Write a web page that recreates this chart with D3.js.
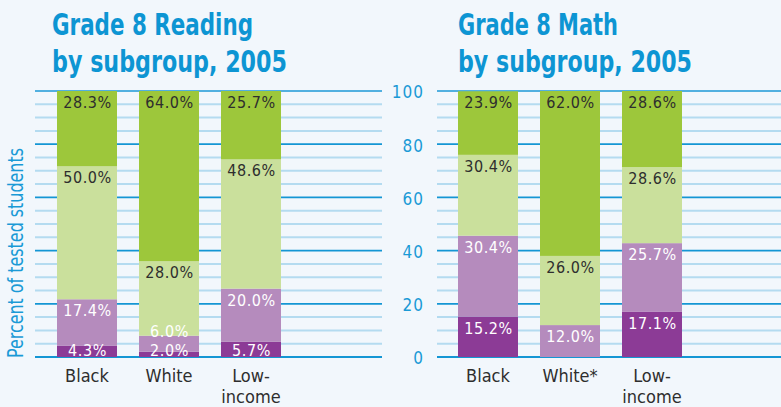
<!DOCTYPE html>
<html>
<head>
<meta charset="utf-8">
<script src="https://cdn.jsdelivr.net/npm/d3@7"></script>
<style>
  html, body { margin: 0; padding: 0; background: #f2f7fc; }
  svg { display: block; }
  text { font-family: "DejaVu Sans Condensed", "Liberation Sans", sans-serif; }
</style>
</head>
<body>
<svg id="chart"></svg>
<script>
// data
const readingCategories = ["Black", "White", "Low-income"];
const mathCategories = ["Black", "White*", "Low-income"];

const readingBand1 = [4.3, 2.0, 5.7];
const readingBand2 = [17.4, 6.0, 20.0];
const readingBand3 = [50.0, 28.0, 48.6];
const readingBand4 = [28.3, 64.0, 25.7];

const mathBand1 = [15.2, 0, 17.1];
const mathBand2 = [30.4, 12.0, 25.7];
const mathBand3 = [30.4, 26.0, 28.6];
const mathBand4 = [23.9, 62.0, 28.6];

const axisTicks = [0, 20, 40, 60, 80, 100];

const bandKeys = ["band1", "band2", "band3", "band4"];
const bandColors = ["#8c3b96", "#b58bbd", "#cae09c", "#9dc73b"];
const labelColors = ["#ffffff", "#ffffff", "#2e2e2e", "#2e2e2e"];

const width = 781, height = 407;
const blue = "#1496d4";

const svg = d3.select("#chart").attr("width", width).attr("height", height);
svg.append("rect").attr("width", width).attr("height", height).attr("fill", "#f2f7fc");

const y = d3.scaleLinear().domain([0, 100]).range([357, 91]);

const makeRows = (cats, b1, b2, b3, b4) =>
  cats.map((c, i) => ({ cat: c, band1: b1[i], band2: b2[i], band3: b3[i], band4: b4[i] }));

const stack = d3.stack().keys(bandKeys);

// grid lines every 5, heavier every 20
function drawGrid(g, x0, x1) {
  const vals = d3.range(0, 101, 5);
  g.selectAll("line.grid").data(vals).enter().append("line")
    .attr("class", "grid")
    .attr("x1", x0).attr("x2", x1)
    .attr("y1", d => y(d)).attr("y2", d => y(d))
    .attr("stroke", d => d === 100 ? "#52b0e0" : (d % 20 === 0 ? blue : "#b4dbf0"))
    .attr("stroke-width", d => d % 20 === 0 ? 1.8 : 2);
}

function drawPanel(opts) {
  const g = svg.append("g");
  const rows = makeRows(opts.cats, ...opts.values);
  const series = stack(rows);

  const x = d3.scaleBand().domain(opts.cats)
    .range([opts.x0, opts.x0 + 82 * 3 - 22])
    .paddingInner(22 / 82).paddingOuter(0);

  drawGrid(g, opts.gridX0, opts.gridX1);

  // titles
  opts.title.forEach((t, i) => {
    g.append("text")
      .attr("x", opts.titleX).attr("y", i === 0 ? 35 : 72)
      .attr("font-size", 31).attr("font-weight", "bold")
      .attr("fill", "#0d95d3")
      .attr("textLength", opts.titleW[i]).attr("lengthAdjust", "spacingAndGlyphs")
      .text(t);
  });

  // bars
  const layers = g.selectAll("g.layer").data(series).enter().append("g").attr("class", "layer");
  layers.selectAll("rect").data((d, i) => d.map(p => ({ p, i })))
    .enter().append("rect")
    .attr("x", d => x(d.p.data.cat))
    .attr("width", x.bandwidth())
    .attr("y", d => y(d.p[1]))
    .attr("height", d => Math.max(0, y(d.p[0]) - y(d.p[1])))
    .attr("fill", d => bandColors[d.i]);

  // value labels, stacked from the bottom so small segments don't collide
  opts.cats.forEach((c, ci) => {
    let prev = null;
    series.forEach((s, si) => {
      const p = s[ci];
      const v = p[1] - p[0];
      if (v <= 0) return;
      let base = Math.min(y(p[1]) + 17, y(0) - 1.5);
      if (prev !== null) base = Math.min(base, prev - 18.5);
      prev = base;
      g.append("text")
        .attr("x", x(c) + x.bandwidth() / 2 + 0.5)
        .attr("y", base)
        .attr("text-anchor", "middle")
        .attr("font-size", 16)
        .attr("letter-spacing", 0.6)
        .attr("fill", labelColors[si])
        .text(v.toFixed(1) + "%");
    });
  });

  // category labels
  opts.cats.forEach(c => {
    const cx = x(c) + x.bandwidth() / 2;
    if (c === "Low-income") {
      g.append("text").attr("x", cx).attr("y", 382)
        .attr("text-anchor", "middle").attr("font-size", 18).attr("fill", "#2e2e2e")
        .text("Low-");
      g.append("text").attr("x", cx).attr("y", 403)
        .attr("text-anchor", "middle").attr("font-size", 18).attr("fill", "#2e2e2e")
        .text("income");
    } else {
      g.append("text").attr("x", cx).attr("y", 382)
        .attr("text-anchor", "middle").attr("font-size", 18).attr("fill", "#2e2e2e")
        .text(c);
    }
  });
  return g;
}

drawPanel({
  cats: readingCategories,
  values: [readingBand1, readingBand2, readingBand3, readingBand4],
  x0: 57, gridX0: 35, gridX1: 382,
  title: ["Grade 8 Reading", "by subgroup, 2005"], titleX: 52, titleW: [201, 235]
});

drawPanel({
  cats: mathCategories,
  values: [mathBand1, mathBand2, mathBand3, mathBand4],
  x0: 458, gridX0: 437, gridX1: 781,
  title: ["Grade 8 Math", "by subgroup, 2005"], titleX: 458, titleW: [160, 234]
});

// axis numbers between the panels
const axis = d3.axisLeft(y).tickValues(axisTicks).tickSize(0).tickPadding(0);
const ag = svg.append("g").attr("transform", "translate(424,0)").call(axis);
ag.select(".domain").remove();
ag.selectAll("text")
  .attr("font-size", 17)
  .attr("letter-spacing", 1)
  .attr("fill", "#1a9ad6")
  .attr("dy", "0.4em");

// y axis title
svg.append("text")
  .attr("transform", "translate(23,253) rotate(-90)")
  .attr("text-anchor", "middle")
  .attr("font-size", 21)
  .attr("fill", "#1a9ad6")
  .attr("textLength", 210).attr("lengthAdjust", "spacingAndGlyphs")
  .text("Percent of tested students");
</script>
</body>
</html>
